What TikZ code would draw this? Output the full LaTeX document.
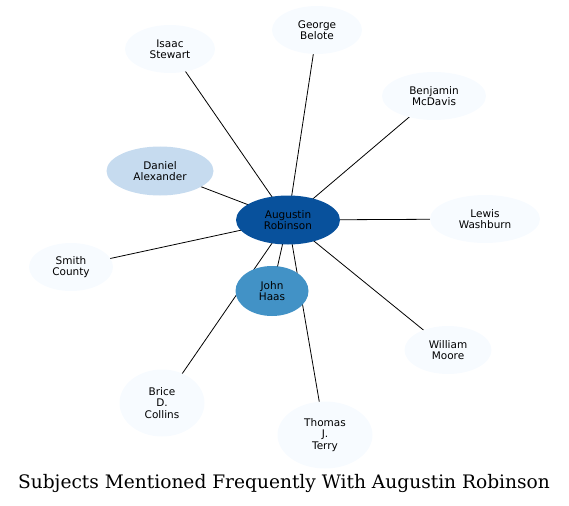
\documentclass[tikz,border=0pt]{standalone}
\usepackage{fontspec}
\setmainfont{DejaVu Sans}
\newfontfamily\titlefont{DejaVu Serif}
\usetikzlibrary{shapes.geometric}
\pgfdeclarelayer{bg}
\pgfsetlayers{bg,main}
\definecolor{faint}{HTML}{F7FBFF}
\definecolor{lightb}{HTML}{C6DBEF}
\definecolor{midb}{HTML}{4292C6}
\definecolor{darkb}{HTML}{08519C}
\begin{document}
\begin{tikzpicture}[x=1pt,y=-1pt,
  ent/.style={ellipse,draw=none,fill=faint,inner sep=0pt,align=center,
    font=\fontsize{10.5}{11.5}\selectfont},
  link/.style={draw=black,line width=0.8pt}]
\useasboundingbox (0,0) rectangle (569,505);
\node[ent,minimum width=90,minimum height=48] (george) at (317,30) {George\\Belote};
\node[ent,minimum width=90,minimum height=48] (isaac) at (170,49) {Isaac\\Stewart};
\node[ent,minimum width=104,minimum height=48] (benjamin) at (434,96) {Benjamin\\McDavis};
\node[ent,fill=lightb,minimum width=107,minimum height=49] (daniel) at (160,171) {Daniel\\Alexander};
\node[ent,fill=darkb,minimum width=104,minimum height=49] (augustin) at (288,220) {Augustin\\Robinson};
\node[ent,minimum width=110,minimum height=48] (lewis) at (485,219) {Lewis\\Washburn};
\node[ent,minimum width=84,minimum height=48] (smith) at (71,267) {Smith\\County};
\node[ent,fill=midb,minimum width=73,minimum height=50] (john) at (272,291) {John\\Haas};
\node[ent,minimum width=87,minimum height=48] (william) at (448,350) {William\\Moore};
\node[ent,minimum width=85,minimum height=67] (brice) at (162,403) {Brice\\D.\\Collins};
\node[ent,minimum width=95,minimum height=67] (thomas) at (325,435) {Thomas\\J.\\Terry};
\node[font=\titlefont\fontsize{18.6}{20}\selectfont] (title) at (284,483) {Subjects Mentioned Frequently With Augustin Robinson};
\begin{pgfonlayer}{bg}
\foreach \t in {george,isaac,benjamin,daniel,lewis,smith,john,william,brice,thomas}
  \draw[link] (augustin.center) -- (\t.center);
\end{pgfonlayer}
\end{tikzpicture}
\end{document}
